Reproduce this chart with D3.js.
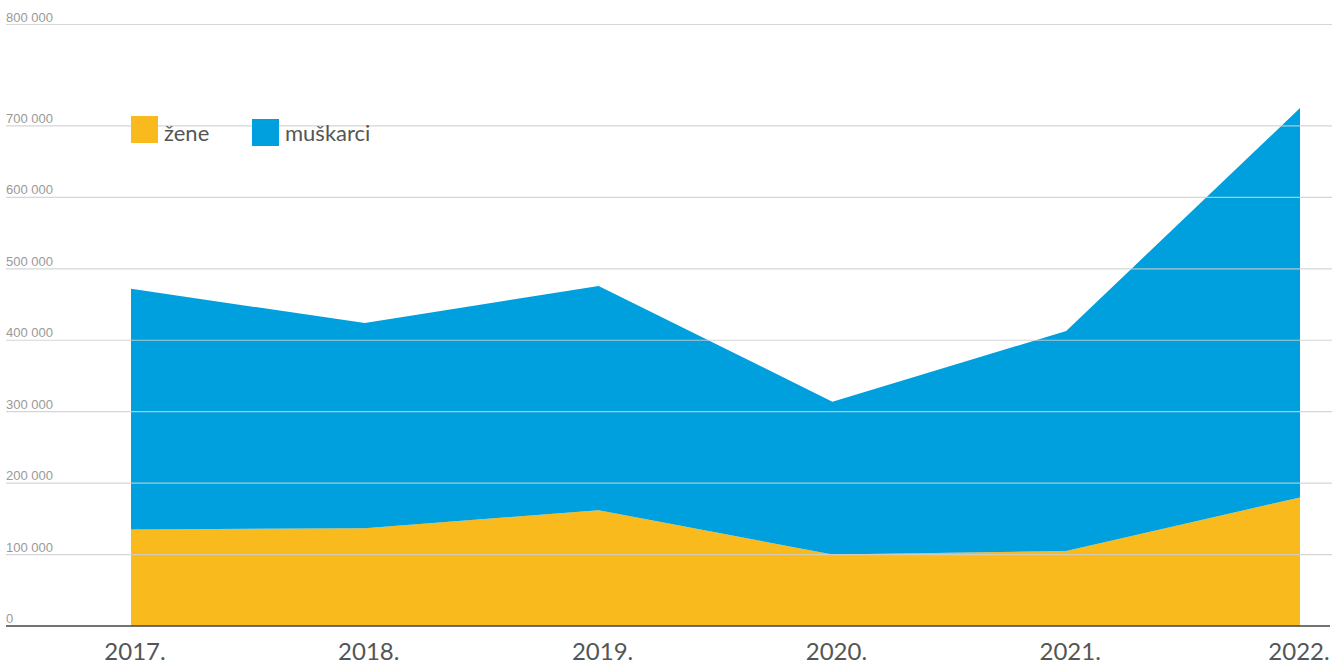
<!DOCTYPE html>
<html lang="hr">
<head>
<meta charset="UTF-8">
<title>žene / muškarci</title>
<style>
  body { margin: 0; background: #fff; }
  .grid line { stroke: #cfcfcf; stroke-width: 1.2px; opacity: 0.85; }
  .ylab { font-family: "Liberation Sans", Arial, sans-serif; font-size: 13px; fill: #999; }
  .xlab { font-family: Lato, "Open Sans", sans-serif; font-size: 24px; fill: #555; text-anchor: middle; }
  .legend text { font-family: Lato, "Open Sans", sans-serif; font-size: 22px; fill: #555; }
</style>
</head>
<body>
<svg id="chart" width="1332" height="666"></svg>
<script src="https://d3js.org/d3.v7.min.js"></script>
<script>
// --- data ---
const years = ["2017.", "2018.", "2019.", "2020.", "2021.", "2022."];
const zene = [135000, 137000, 162000, 100000, 105000, 180000];
const muskarci = [337000, 287000, 314000, 214000, 308000, 545000];
const seriesNames = ["žene", "muškarci"];
const seriesColors = ["#F9BA1E", "#00A0DE"];
const yTicks = [0, 100000, 200000, 300000, 400000, 500000, 600000, 700000, 842000];
const yTickLabels = ["0", "100 000", "200 000", "300 000", "400 000", "500 000", "600 000", "700 000", "800 000"];

const rows = years.map((y, i) => ({ year: y, "žene": zene[i], "muškarci": muskarci[i] }));

const svg = d3.select("#chart");
const x = d3.scalePoint().domain(years).range([131, 1300]);
const y = d3.scaleLinear().domain([0, 842000]).range([626, 24.5]);

const stacked = d3.stack().keys(seriesNames)(rows);

const area = d3.area()
    .x(d => x(d.data.year))
    .y0(d => y(d[0]))
    .y1(d => y(d[1]));

svg.append("g").selectAll("path")
    .data(stacked)
    .join("path")
    .attr("d", area)
    .attr("fill", (d, i) => seriesColors[i]);

// gridlines on top of the areas
const grid = svg.append("g").attr("class", "grid");
grid.selectAll("line")
    .data(yTicks.slice(1))
    .join("line")
    .attr("x1", 6).attr("x2", 1332)
    .attr("y1", d => y(d)).attr("y2", d => y(d));

// baseline
svg.append("line")
    .attr("x1", 6).attr("x2", 1330)
    .attr("y1", y(0)).attr("y2", y(0))
    .attr("stroke", "#444").attr("stroke-width", 1.3);

// y labels
svg.append("g").selectAll("text")
    .data(yTicks)
    .join("text")
    .attr("class", "ylab")
    .attr("x", 6)
    .attr("y", d => y(d) - 3)
    .text((d, i) => yTickLabels[i]);

// x labels
svg.append("g").selectAll("text")
    .data(years)
    .join("text")
    .attr("class", "xlab")
    .attr("x", (d, i) => i === years.length - 1 ? x(d) - 1 : x(d) + 4)
    .attr("y", 660)
    .text(d => d);

// legend
const legendPos = [{ x: 131, y: 116 }, { x: 252, y: 119 }];
const legend = svg.append("g").attr("class", "legend")
    .selectAll("g")
    .data(seriesNames)
    .join("g")
    .attr("transform", (d, i) => `translate(${legendPos[i].x},${legendPos[i].y})`);

legend.append("rect")
    .attr("width", 27).attr("height", 27)
    .attr("fill", (d, i) => seriesColors[i]);

legend.append("text")
    .attr("x", 33)
    .attr("y", (d, i) => i === 0 ? 25 : 22)
    .text(d => d);
</script>
</body>
</html>
